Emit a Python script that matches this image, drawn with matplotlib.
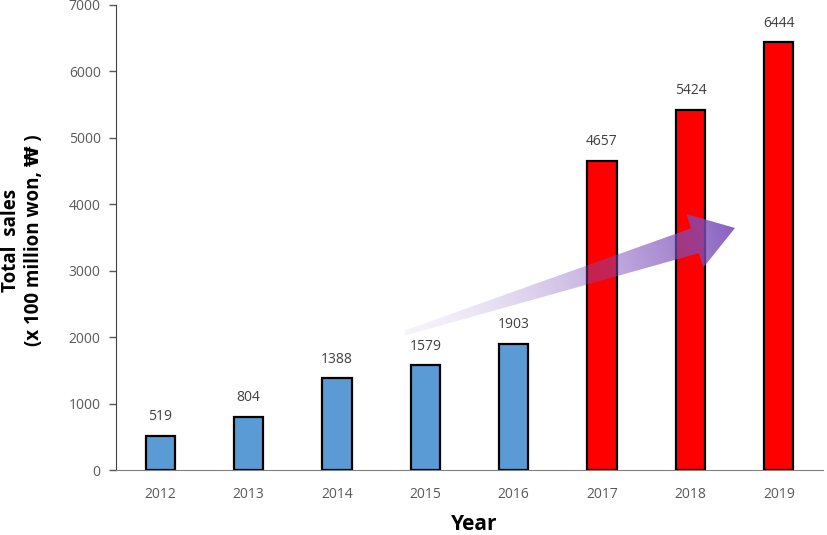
import numpy as np
import matplotlib
matplotlib.use("Agg")
import matplotlib.pyplot as plt
from matplotlib.path import Path
from matplotlib.patches import PathPatch

years = ['2012', '2013', '2014', '2015', '2016', '2017', '2018', '2019']
sales = [519, 804, 1388, 1579, 1903, 4657, 5424, 6444]
colors = ['#5B9BD5'] * 5 + ['#FF0000'] * 3

plt.rcParams['font.family'] = ['Open Sans', 'DejaVu Sans']

fig = plt.figure(figsize=(8.27, 5.35), dpi=100)
ax = fig.add_axes([116 / 827, 65 / 535, 707 / 827, 465 / 535])

x = np.arange(len(years))
bars = ax.bar(x, sales, width=0.33, color=colors, edgecolor='black', linewidth=1.6, zorder=2)
for xi, v in zip(x, sales):
    ax.text(xi, v + 170, str(v), ha='center', va='bottom', fontsize=10, color='#404040')

ax.set_xlim(-0.5, 7.5)
ax.set_ylim(0, 7000)
ax.set_yticks(range(0, 7001, 1000))
ax.set_xticks(x)
ax.set_xticklabels(years)
ax.tick_params(axis='x', length=0, pad=12, labelsize=10, labelcolor='#595959')
ax.tick_params(axis='y', length=5, width=1, color='#595959', labelsize=10, labelcolor='#595959', pad=6)
for s in ['top', 'right']:
    ax.spines[s].set_visible(False)
ax.spines['left'].set_color('#404040')
ax.spines['bottom'].set_color('#808080')

fig.text(474 / 827, 1 - 524 / 535, 'Year', fontsize=15, fontweight='bold', ha='center', va='center')
fig.text(23 / 827, 1 - 240 / 535, 'Total  sales\n(x 100 million won, \u20a9 )', fontsize=13.5,
         fontweight='bold', rotation=90, ha='center', va='center', multialignment='center',
         linespacing=1.2)

# gradient arrow, built in pixel space (image coords, y down) then mapped to data
H = 535
tail = np.array([405.0, 333.0])
tip = np.array([735.0, 228.0])
d = tip - tail
L = np.hypot(*d)
u = d / L
n = np.array([-u[1], u[0]])
head_len, head_hw, shaft_hw, tail_hw = 42.0, 28.0, 13.0, 2.5
base = tip - u * head_len
pts = [tail + n * tail_hw, base + n * shaft_hw, base + n * head_hw, tip,
       base - n * head_hw, base - n * shaft_hw, tail - n * tail_hw, tail + n * tail_hw]
pts = np.array(pts)
disp = np.column_stack([pts[:, 0], H - pts[:, 1]])
data_pts = ax.transData.inverted().transform(disp)
codes = [Path.MOVETO] + [Path.LINETO] * (len(data_pts) - 2) + [Path.CLOSEPOLY]
patch = PathPatch(Path(data_pts, codes), facecolor='none', edgecolor='none', transform=ax.transData)
ax.add_patch(patch)

xmin, ymin = pts[:, 0].min() - 5, pts[:, 1].min() - 5
xmax, ymax = pts[:, 0].max() + 5, pts[:, 1].max() + 5
gx, gy = np.meshgrid(np.linspace(xmin, xmax, 400), np.linspace(ymin, ymax, 200))
t = ((gx - tail[0]) * u[0] + (gy - tail[1]) * u[1]) / L
t = np.clip(t, 0, 1)
img = np.zeros(gx.shape + (4,))
img[..., 0] = 0.49
img[..., 1] = 0.31
img[..., 2] = 0.73
img[..., 3] = 0.07 + 0.83 * t ** 1.5
lo = ax.transData.inverted().transform([xmin, H - ymax])
hi = ax.transData.inverted().transform([xmax, H - ymin])
im = ax.imshow(img, extent=[lo[0], hi[0], lo[1], hi[1]], origin='upper', aspect='auto', zorder=3)
im.set_clip_path(patch)
ax.set_xlim(-0.5, 7.5)
ax.set_ylim(0, 7000)

fig.savefig('out.png', dpi=100)
